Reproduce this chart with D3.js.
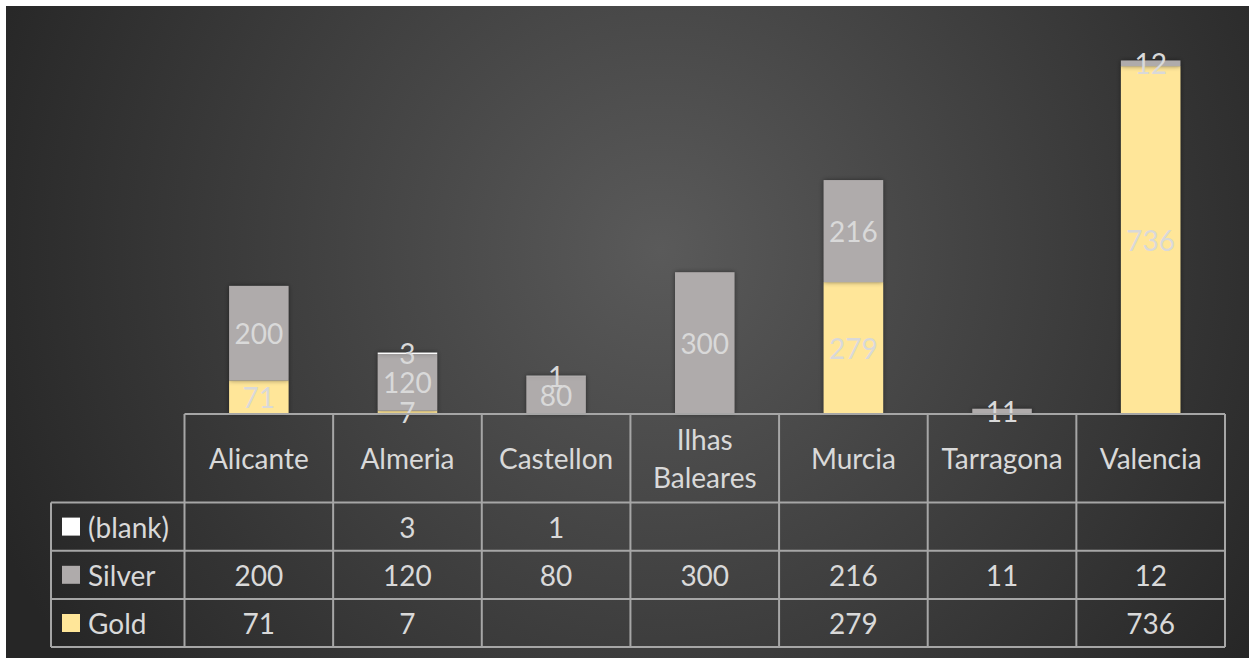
<!DOCTYPE html>
<html>
<head>
<meta charset="utf-8">
<script src="https://cdn.jsdelivr.net/npm/d3@7"></script>
<style>
  html, body { margin: 0; padding: 0; background: #ffffff; }
  svg { display: block; }
  text { font-family: Lato, "Open Sans", sans-serif; }
</style>
</head>
<body>
<svg id="chart" width="1249" height="658"></svg>
<script>
// Medal counts per region, stacked Gold -> Silver -> (blank)
const categories = ["Alicante", "Almeria", "Castellon", "Ilhas Baleares", "Murcia", "Tarragona", "Valencia"];
const categoryLines = [["Alicante"], ["Almeria"], ["Castellon"], ["Ilhas", "Baleares"], ["Murcia"], ["Tarragona"], ["Valencia"]];
const seriesNames = ["Gold", "Silver", "(blank)"];
const gold   = [71, 7, null, null, 279, null, 736];
const silver = [200, 120, 80, 300, 216, 11, 12];
const blank  = [null, 3, 1, null, null, null, null];
const seriesColors = { "Gold": "#FFE699", "Silver": "#AFABAB", "(blank)": "#FFFFFF" };
// table rows are listed top to bottom
const tableRows = ["(blank)", "Silver", "Gold"];

const W = 1249, H = 658;
const svg = d3.select("#chart");

// background panel with radial shading
const defs = svg.append("defs");
const grad = defs.append("radialGradient")
  .attr("id", "bg").attr("gradientUnits", "userSpaceOnUse")
  .attr("cx", 660).attr("cy", 250).attr("r", 720);
grad.append("stop").attr("offset", "0%").attr("stop-color", "#5a5a5a");
grad.append("stop").attr("offset", "100%").attr("stop-color", "#262626");

const shadow = defs.append("filter").attr("id", "shadow")
  .attr("x", "-20%").attr("y", "-20%").attr("width", "140%").attr("height", "140%");
shadow.append("feDropShadow").attr("dx", 0).attr("dy", 0).attr("stdDeviation", 2.5)
  .attr("flood-color", "#000").attr("flood-opacity", 0.45);

svg.append("rect").attr("x", 6).attr("y", 6).attr("width", W - 6).attr("height", H - 6)
  .attr("fill", "url(#bg)");

// layout
const plotLeft = 184.5, plotRight = 1225, baseY = 414, topY = 60.5;
const headerBottom = 502.5, rowH = 48.2;
const tableLeft = 51;

const data = categories.map((c, i) => ({
  cat: c, "Gold": gold[i] || 0, "Silver": silver[i] || 0, "(blank)": blank[i] || 0
}));
const raw = { "Gold": gold, "Silver": silver, "(blank)": blank };

const x = d3.scaleBand().domain(categories).range([plotLeft, plotRight])
  .paddingInner(0.6).paddingOuter(0.3);
const maxTotal = d3.max(data, d => d["Gold"] + d["Silver"] + d["(blank)"]);
const y = d3.scaleLinear().domain([0, maxTotal]).range([baseY, topY]);

const stacked = d3.stack().keys(seriesNames)(data);

const gBars = svg.append("g");
stacked.forEach(layer => {
  const key = layer.key;
  gBars.append("g").attr("filter", "url(#shadow)")
    .selectAll("rect").data(layer.filter((d, i) => raw[key][i] != null)).join("rect")
    .attr("x", d => x(d.data.cat))
    .attr("width", x.bandwidth())
    .attr("y", d => y(d[1]))
    .attr("height", d => y(d[0]) - y(d[1]))
    .attr("fill", seriesColors[key]);
});

// data labels centred in each segment
const fontSize = 28;
const gLabels = svg.append("g");
stacked.forEach(layer => {
  const key = layer.key;
  gLabels.selectAll(null).data(layer.filter((d, i) => raw[key][i] != null)).join("text")
    .attr("x", d => x(d.data.cat) + x.bandwidth() / 2)
    .attr("y", d => (y(d[0]) + y(d[1])) / 2)
    .attr("text-anchor", "middle").attr("dominant-baseline", "central")
    .attr("font-size", fontSize)
    .attr("fill", "#D9D9D9")
    .text(d => d[1] - d[0]);
});

// data table
const step = x.step();
const colEdges = categories.map((c, i) => plotLeft + i * step).concat([plotRight]);
const lineColor = "#A6A6A6";
const gTable = svg.append("g");
const tableBottom = headerBottom + rowH * tableRows.length;

gTable.append("line").attr("x1", plotLeft).attr("x2", plotRight)
  .attr("y1", baseY).attr("y2", baseY);
[0, 1, 2, 3].forEach(k => {
  gTable.append("line").attr("x1", tableLeft).attr("x2", plotRight)
    .attr("y1", headerBottom + k * rowH).attr("y2", headerBottom + k * rowH);
});
colEdges.forEach(xe => {
  gTable.append("line").attr("x1", xe).attr("x2", xe).attr("y1", baseY).attr("y2", tableBottom);
});
gTable.append("line").attr("x1", tableLeft).attr("x2", tableLeft)
  .attr("y1", headerBottom).attr("y2", tableBottom);
gTable.selectAll("line").attr("stroke", lineColor).attr("stroke-width", 2);

// category headers
const headerMid = (baseY + headerBottom) / 2;
const lineGap = 38;
categories.forEach((c, i) => {
  const lines = categoryLines[i];
  const t = gTable.append("text")
    .attr("x", x(c) + x.bandwidth() / 2)
    .attr("text-anchor", "middle").attr("font-size", fontSize).attr("fill", "#D9D9D9");
  lines.forEach((ln, j) => {
    t.append("tspan").attr("x", x(c) + x.bandwidth() / 2)
      .attr("y", headerMid + (j - (lines.length - 1) / 2) * lineGap)
      .attr("dominant-baseline", "central").text(ln);
  });
});

// series rows with legend keys
tableRows.forEach((name, r) => {
  const cy = headerBottom + r * rowH + rowH / 2;
  gTable.append("rect").attr("x", 62).attr("y", cy - 9).attr("width", 18).attr("height", 18)
    .attr("fill", seriesColors[name]);
  gTable.append("text").attr("x", 88).attr("y", cy)
    .attr("dominant-baseline", "central").attr("font-size", fontSize).attr("fill", "#D9D9D9")
    .text(name);
  raw[name].forEach((v, i) => {
    if (v == null) return;
    gTable.append("text").attr("x", x(categories[i]) + x.bandwidth() / 2).attr("y", cy)
      .attr("text-anchor", "middle").attr("dominant-baseline", "central")
      .attr("font-size", fontSize).attr("fill", "#D9D9D9").text(v);
  });
});
</script>
</body>
</html>
